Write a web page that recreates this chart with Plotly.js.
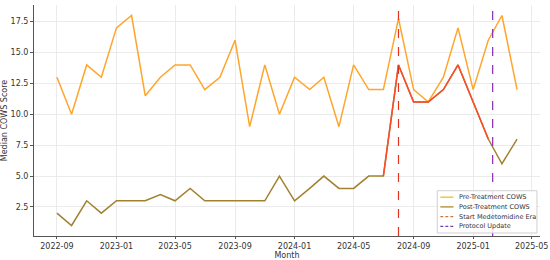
<!DOCTYPE html>
<html>
<head>
<meta charset="utf-8">
<script src="https://cdn.plot.ly/plotly-3.0.1.min.js"></script>
<style>
  html, body { margin: 0; padding: 0; background: #fff; }
  #chart { width: 550px; height: 260px; }
</style>
</head>
<body>
<div id="chart"></div>
<script>
// monthly medians
var months = [
    '2022-09-01', '2022-10-01', '2022-11-01', '2022-12-01',
    '2023-01-01', '2023-02-01', '2023-03-01', '2023-04-01', '2023-05-01', '2023-06-01',
    '2023-07-01', '2023-08-01', '2023-09-01', '2023-10-01', '2023-11-01', '2023-12-01',
    '2024-01-01', '2024-02-01', '2024-03-01', '2024-04-01', '2024-05-01', '2024-06-01',
    '2024-07-01', '2024-08-01', '2024-09-01', '2024-10-01', '2024-11-01', '2024-12-01',
    '2025-01-01', '2025-02-01', '2025-03-01', '2025-04-01'
];
var preCows = [13, 10, 14, 13, 17, 18, 11.5, 13, 14, 14, 12, 13, 16, 9, 14, 10,
               13, 12, 13, 9, 14, 12, 12, 17.75, 12, 11, 13, 17, 12, 16, 18, 12];
var postCows = [2, 1, 3, 2, 3, 3, 3, 3.5, 3, 4, 3, 3, 3, 3, 3, 5,
                3, 4, 5, 4, 4, 5, 5, 14, 11, 11, 12, 14, 11, 8, 6, 8];

var medetomidineStart = '2024-08-01';
var protocolUpdate = '2025-02-10';

var xTicks = ['2022-09-01', '2023-01-01', '2023-05-01', '2023-09-01', '2024-01-01',
              '2024-05-01', '2024-09-01', '2025-01-01', '2025-05-01'];
var yTicks = [2.5, 5, 7.5, 10, 12.5, 15, 17.5];

var legendLabels = ['Pre-Treatment COWS', 'Post-Treatment COWS', 'Start Medetomidine Era', 'Protocol Update'];
var legendColors = ['#e8c21f', '#ad8a2e', '#c97a3c', '#7a3fb0'];
var legendDash = ['solid', 'solid', 'dash', 'dash'];

// the stretch of the post line drawn in red (medetomidine era)
var redFrom = months.indexOf('2024-07-01');
var redTo = months.indexOf('2025-02-01');

document.addEventListener('DOMContentLoaded', function() {
    var font = 'DejaVu Sans, sans-serif';

    var pre = {
        x: months, y: preCows, type: 'scatter', mode: 'lines',
        name: legendLabels[0],
        line: { color: '#ffa52c', width: 1.5 }
    };
    var post = {
        x: months, y: postCows, type: 'scatter', mode: 'lines',
        name: legendLabels[1],
        line: { color: '#a2822e', width: 1.5 }
    };
    var postRed = {
        x: months.slice(redFrom, redTo + 1), y: postCows.slice(redFrom, redTo + 1),
        type: 'scatter', mode: 'lines', hoverinfo: 'skip',
        line: { color: '#ff4a2a', width: 1.5 }
    };

    var shapes = [
        {
            type: 'line', xref: 'x', yref: 'paper',
            x0: medetomidineStart, x1: medetomidineStart, y0: 0, y1: 1,
            line: { color: '#e5321f', width: 1.2, dash: 'dash' }
        },
        {
            type: 'line', xref: 'x', yref: 'paper',
            x0: protocolUpdate, x1: protocolUpdate, y0: 0, y1: 1,
            line: { color: '#8a2ab5', width: 1.2, dash: 'dash' }
        },
        // legend box, matplotlib style, lower right
        {
            type: 'rect', xref: 'paper', yref: 'paper', layer: 'above',
            x0: 0.797, x1: 0.994, y0: 0.013, y1: 0.196,
            fillcolor: 'rgba(255,255,255,0.85)',
            line: { color: '#d0d0d0', width: 1 }
        }
    ];
    var annotations = [];
    var rowY = [0.168, 0.126, 0.084, 0.042];
    legendLabels.forEach(function(label, i) {
        shapes.push({
            type: 'line', xref: 'paper', yref: 'paper', layer: 'above',
            x0: 0.803, x1: 0.829, y0: rowY[i], y1: rowY[i],
            line: { color: legendColors[i], width: 1.3, dash: legendDash[i] === 'dash' ? '3px,2px' : 'solid' }
        });
        annotations.push({
            xref: 'paper', yref: 'paper', x: 0.836, y: rowY[i],
            xanchor: 'left', yanchor: 'middle', showarrow: false,
            text: label, font: { family: font, size: 6.5, color: '#333' }
        });
    });

    var layout = {
        width: 550, height: 260,
        margin: { l: 34, r: 10, t: 5, b: 24 },
        paper_bgcolor: '#fff', plot_bgcolor: '#fff',
        font: { family: font, size: 8, color: '#333' },
        showlegend: false,
        xaxis: {
            type: 'date',
            range: ['2022-07-16', '2025-05-18'],
            tickvals: xTicks,
            tickformat: '%Y-%m',
            showgrid: true, gridcolor: '#e6e6e6', gridwidth: 0.8,
            zeroline: false,
            showline: true, linecolor: '#555', linewidth: 1,
            ticks: 'outside', ticklen: 2, tickcolor: '#555',
            title: { text: 'Month', font: { size: 8 }, standoff: 2 }
        },
        yaxis: {
            range: [0.15, 18.85],
            tickvals: yTicks,
            tickformat: '.1f',
            showgrid: true, gridcolor: '#e6e6e6', gridwidth: 0.8,
            zeroline: false,
            showline: true, linecolor: '#555', linewidth: 1,
            ticks: 'outside', ticklen: 3, tickcolor: '#555',
            title: { text: 'Median COWS Score', font: { size: 8 }, standoff: 4 }
        },
        shapes: shapes,
        annotations: annotations
    };

    Plotly.newPlot('chart', [pre, post, postRed], layout, { staticPlot: true });
});
</script>
</body>
</html>
